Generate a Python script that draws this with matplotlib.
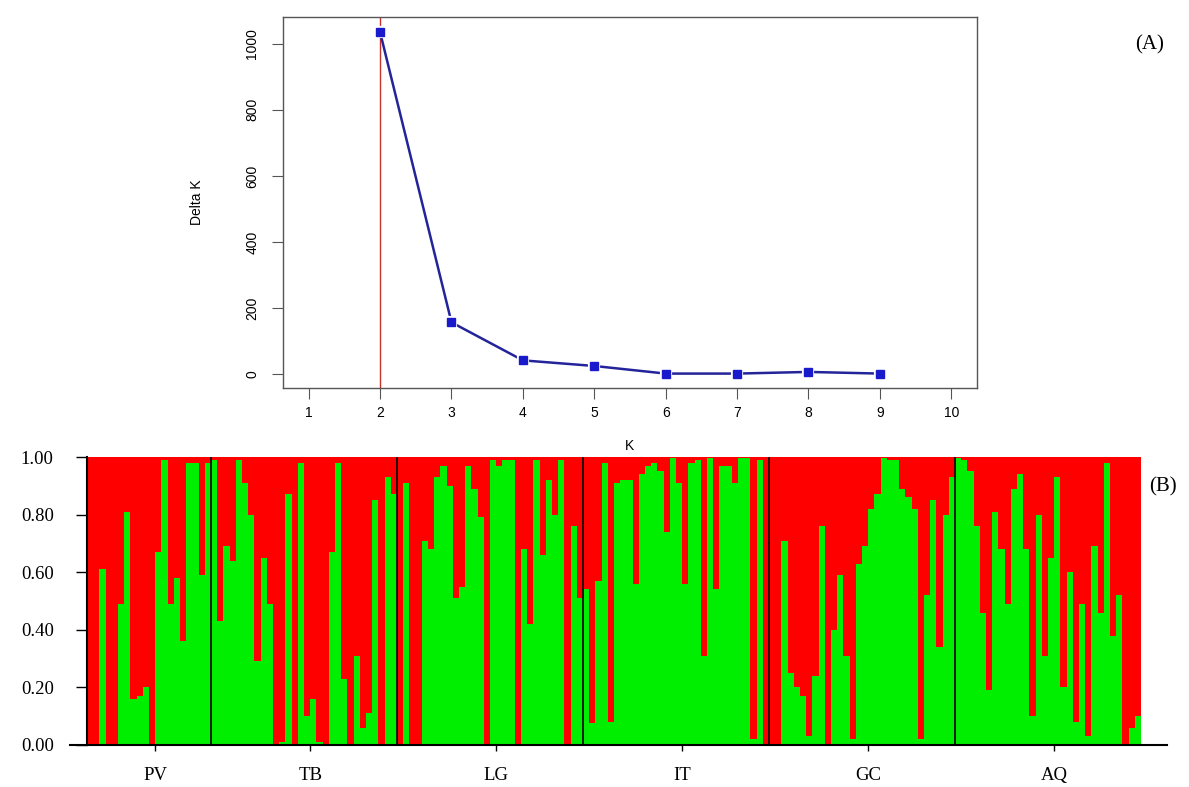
import numpy as np
import matplotlib.pyplot as plt

# panel A: Evanno delta K
k_values = [1, 2, 3, 4, 5, 6, 7, 8, 9, 10]
delta_k = [np.nan, 1035, 157, 42, 25, 2, 2, 7, 2, np.nan]
best_k = 2

# panel B: membership to the green cluster (K=2), one value per individual
populations = ["PV", "TB", "LG", "IT", "GC", "AQ"]
pv = [0, 0, 0.61, 0, 0, 0.49, 0.81, 0.16, 0.17, 0.20, 0, 0.67, 0.99, 0.49,
      0.58, 0.36, 0.98, 0.98, 0.59, 0.98]
tb = [0.99, 0.43, 0.69, 0.64, 0.99, 0.91, 0.80, 0.29, 0.65, 0.49, 0.0, 0.01,
      0.87, 0.0, 0.98, 0.10, 0.16, 0.01, 0.0, 0.67, 0.98, 0.23, 0, 0.31, 0.06,
      0.11, 0.85, 0, 0.93, 0.87]
lg = [0, 0.91, 0, 0, 0.71, 0.68, 0.93, 0.97, 0.90, 0.51, 0.55, 0.97, 0.89,
      0.79, 0, 0.99, 0.97, 0.99, 0.99, 0, 0.68, 0.42, 0.99, 0.66, 0.92, 0.80,
      0.99, 0, 0.76, 0.51]
it = [0.54, 0.075, 0.57, 0.98, 0.08, 0.91, 0.92, 0.92, 0.56, 0.94, 0.97, 0.98,
      0.95, 0.74, 0.995, 0.91, 0.56, 0.98, 0.99, 0.31, 0.995, 0.54, 0.97, 0.97,
      0.91, 0.995, 0.995, 0.02, 0.99, 0.0]
gc = [0, 0, 0.71, 0.25, 0.20, 0.17, 0.03, 0.24, 0.76, 0, 0.40, 0.59, 0.31, 0.02,
      0.63, 0.69, 0.82, 0.87, 0.995, 0.99, 0.99, 0.89, 0.86, 0.82, 0.02, 0.52,
      0.85, 0.34, 0.80, 0.93]
aq = [0.995, 0.99, 0.95, 0.76, 0.46, 0.19, 0.81, 0.68, 0.49, 0.89, 0.94, 0.68,
      0.10, 0.80, 0.31, 0.65, 0.93, 0.20, 0.60, 0.08, 0.49, 0.03, 0.69, 0.46,
      0.98, 0.38, 0.52, 0, 0.06, 0.10]
groups = [pv, tb, lg, it, gc, aq]

sans = "Liberation Sans"
serif = "Liberation Serif"

fig = plt.figure(figsize=(11.89, 7.87), dpi=100)

# ---------------- panel A
axA = fig.add_axes([0.238, 0.507, 0.5837, 0.4714])
axA.axvline(best_k, color="#c8302c", lw=1, zorder=1)
axA.plot(k_values, delta_k, color="#24249a", lw=1.8, zorder=2)
# white halo around the points gives the R type="b" gaps
axA.plot(k_values, delta_k, "s", ms=5.5, mfc="#1a1acd", mec="white", mew=3, zorder=3)
axA.plot(k_values, delta_k, "s", ms=5.5, color="#1a1acd", zorder=4)
axA.set_xlim(0.64, 10.36)
axA.set_ylim(-41.6, 1081)
axA.set_xticks(k_values)
axA.set_xticklabels([str(k) for k in k_values], family=sans, fontsize=10)
axA.set_yticks(range(0, 1001, 200))
axA.set_yticklabels([str(v) for v in range(0, 1001, 200)], family=sans,
                    fontsize=10, rotation=90, va="center")
axA.tick_params(axis="both", length=8, width=0.8, color="#555555")
axA.tick_params(axis="x", pad=5)
axA.tick_params(axis="y", pad=9)
for s in axA.spines.values():
    s.set_color("#555555")
    s.set_linewidth(1)
axA.set_xlabel("K", family=sans, fontsize=10, labelpad=14)
axA.set_ylabel("Delta K", family=sans, fontsize=10, labelpad=30)

# ---------------- panel B
green = np.concatenate([np.array(g, dtype=float) for g in groups])
red = 1 - green
x = np.arange(len(green))
sizes = [len(g) for g in groups]
edges = np.cumsum(sizes)
starts = edges - np.array(sizes)

axB = fig.add_axes([0.0732, 0.0534, 0.8864, 0.3659])
axB.bar(x, green, width=1.0, color="#00ee00", linewidth=0)
axB.bar(x, red, width=1.0, bottom=green, color="#ff0000", linewidth=0)
for e in edges[:-1]:
    axB.axvline(e - 0.5, color="black", lw=1.2)
axB.set_xlim(-0.5, len(green) - 0.5)
axB.set_ylim(0, 1)

yt = np.arange(0, 1.01, 0.2)
axB.set_yticks(yt)
axB.set_yticklabels(["%.2f" % v for v in yt], family=serif, fontsize=13.5)
axB.tick_params(axis="y", length=8, width=1, pad=16)
centers = starts + (np.array(sizes) - 1) / 2 + 1
axB.set_xticks(centers)
axB.set_xticklabels(populations, family=serif, fontsize=13.5)
axB.tick_params(axis="x", length=4, width=1, pad=12)

for side in ["top", "right", "bottom"]:
    axB.spines[side].set_visible(False)
axB.spines["left"].set_linewidth(1.5)
axB.plot([-0.016, 1.025], [0, 0], transform=axB.transAxes, color="black",
         lw=1.5, clip_on=False)

fig.text(1150 / 1189, 1 - 45 / 787, "(A)", family=serif, fontsize=15,
         ha="center", va="center")
fig.text(1163 / 1189, 1 - 487 / 787, "(B)", family=serif, fontsize=15,
         ha="center", va="center")

fig.savefig("out.png", dpi=100)
